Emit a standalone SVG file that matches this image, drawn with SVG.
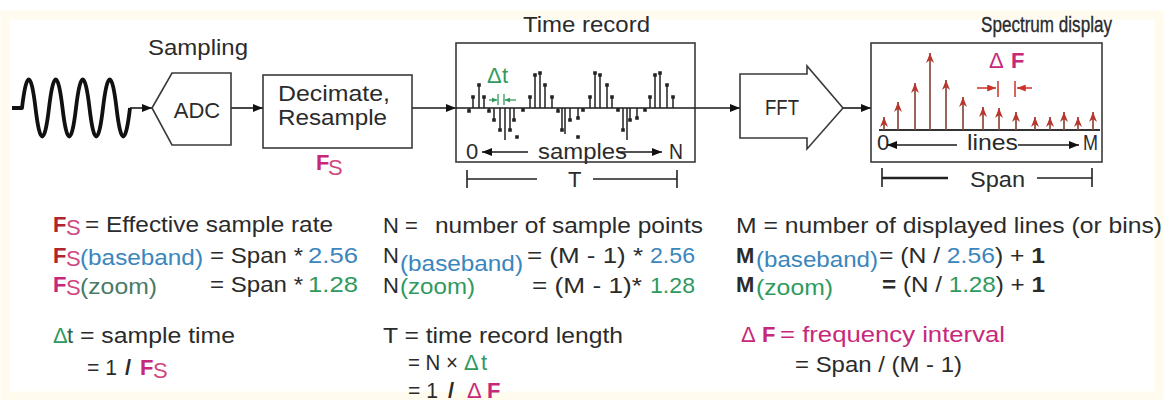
<svg xmlns="http://www.w3.org/2000/svg" width="1175" height="401" viewBox="0 0 1175 401">
<style>
text{font-family:"Liberation Sans",Arial,Helvetica,sans-serif;fill:#2b2b2b;font-size:22px}
.box{fill:#fff;stroke:#3a3a3a;stroke-width:1.6}
.conn{stroke:#1a1a1a;stroke-width:1.6;fill:none}
.blue{fill:#3a86bd}
.green{fill:#2f9a5e}
.mag{fill:#c8287a}
.red{fill:#b0242e}
.pink{fill:#d0487e}
.b{font-weight:bold}
.stem{stroke:#222;stroke-width:1.5;fill:none}
.dot{fill:#222}
.sline{stroke:#8a4a3c;stroke-width:1.7;fill:none}
.dim{stroke:#222;stroke-width:1.6;fill:none}
.gl{stroke:#2f9a5e;stroke-width:1.3;fill:none}
.rl{stroke:#d0302a;stroke-width:1.5;fill:none}
</style>
<defs>
<marker id="ah" viewBox="0 0 10 8" refX="10" refY="4" markerWidth="10" markerHeight="8" markerUnits="userSpaceOnUse" orient="auto"><path d="M0,0L10,4L0,8z" fill="#111"/></marker>
<marker id="ag" viewBox="0 0 6 6" refX="6" refY="3" markerWidth="5" markerHeight="5" markerUnits="userSpaceOnUse" orient="auto"><path d="M0,0L6,3L0,6z" fill="#2f9a5e"/></marker>
<marker id="ar" viewBox="0 0 10 8" refX="10" refY="4" markerWidth="9" markerHeight="7" markerUnits="userSpaceOnUse" orient="auto"><path d="M0,0L10,4L0,8z" fill="#d0302a"/></marker>
<marker id="sp" viewBox="0 0 10 8" refX="10" refY="4" markerWidth="10" markerHeight="9" markerUnits="userSpaceOnUse" orient="auto"><path d="M0,0L10,4L0,8L3,4z" fill="#b8362c"/></marker>
</defs>
<rect width="1175" height="401" fill="#fff"/>
<rect x="5" y="15" width="1154" height="381" fill="none" stroke="#fffcef" stroke-width="9"/>

<g id="connectors">
<line class="conn" x1="130" y1="108" x2="152" y2="108" marker-end="url(#ah)"/>
<line class="conn" x1="231" y1="108" x2="263" y2="108" marker-end="url(#ah)"/>
<line class="conn" x1="412" y1="108" x2="456" y2="108" marker-end="url(#ah)"/>
<line class="conn" x1="695" y1="108" x2="740" y2="108" marker-end="url(#ah)"/>
<line class="conn" x1="843" y1="108" x2="871" y2="108" marker-end="url(#ah)"/>
</g>

<g id="wave">
<path d="M12,108H22q6.75,-57 13.5,0t13.5,0t13.5,0t13.5,0t13.5,0t13.5,0t13.5,0t13.5,0" fill="none" stroke="#111" stroke-width="3.8" stroke-linejoin="round"/>
</g>

<g id="sampling-label"><text x="148" y="55" font-size="23" textLength="100" lengthAdjust="spacingAndGlyphs">Sampling</text></g>

<g id="adc">
<polygon class="box" points="152,108 172,73 231,73 231,145 172,145"/>
<text x="197" y="118" font-size="23" text-anchor="middle">ADC</text>
</g>

<g id="decimate">
<rect class="box" x="263" y="75" width="149" height="73"/>
<text x="278" y="101" font-size="20.5" textLength="112" lengthAdjust="spacingAndGlyphs">Decimate,</text>
<text x="278" y="125" font-size="20.5" textLength="109" lengthAdjust="spacingAndGlyphs">Resample</text>
<text x="316" y="170" font-size="17" class="b mag">F</text><text x="328" y="175" font-size="15" class="pink">S</text>
</g>

<g id="time-record">
<text x="523" y="32" font-size="23" textLength="127" lengthAdjust="spacingAndGlyphs">Time record</text>
<rect class="box" x="456" y="43" width="239" height="119"/>
<line class="conn" x1="456" y1="108" x2="695" y2="108"/>
<path class="stem" d="M469,108V111M473,108V97M479,108V85M484,108V97M489,108V111M494,108V120M500,108V130M505,108V140M510,108V130M514,108V120M523,108V110M530,108V97M535,108V75M540,108V73M545,108V85M552,108V97M558,108V111M562,108V130M565,108V134M570,108V120M578,108V118M583,108V110M590,108V97M595,108V73M600,108V75M607,108V85M612,108V97M618,108V110M623,108V130M627,108V140M630,108V120M637,108V118M645,108V110M650,108V97M655,108V75M660,108V73M667,108V85M673,108V97"/>
<path class="dot" d="M467.2,109.2h3.6v3.6h-3.6zM471.2,95.2h3.6v3.6h-3.6zM477.2,83.2h3.6v3.6h-3.6zM482.2,95.2h3.6v3.6h-3.6zM487.2,109.2h3.6v3.6h-3.6zM492.2,118.2h3.6v3.6h-3.6zM498.2,128.2h3.6v3.6h-3.6zM508.2,128.2h3.6v3.6h-3.6zM512.2,118.2h3.6v3.6h-3.6zM521.2,108.2h3.6v3.6h-3.6zM515.2,135.2h3.6v3.6h-3.6zM528.2,95.2h3.6v3.6h-3.6zM533.2,73.2h3.6v3.6h-3.6zM538.2,71.2h3.6v3.6h-3.6zM543.2,83.2h3.6v3.6h-3.6zM550.2,95.2h3.6v3.6h-3.6zM556.2,109.2h3.6v3.6h-3.6zM560.2,128.2h3.6v3.6h-3.6zM568.2,118.2h3.6v3.6h-3.6zM576.2,116.2h3.6v3.6h-3.6zM581.2,108.2h3.6v3.6h-3.6zM576.2,135.2h3.6v3.6h-3.6zM588.2,95.2h3.6v3.6h-3.6zM593.2,71.2h3.6v3.6h-3.6zM598.2,73.2h3.6v3.6h-3.6zM605.2,83.2h3.6v3.6h-3.6zM610.2,95.2h3.6v3.6h-3.6zM616.2,108.2h3.6v3.6h-3.6zM621.2,128.2h3.6v3.6h-3.6zM628.2,118.2h3.6v3.6h-3.6zM635.2,116.2h3.6v3.6h-3.6zM643.2,108.2h3.6v3.6h-3.6zM648.2,95.2h3.6v3.6h-3.6zM653.2,73.2h3.6v3.6h-3.6zM658.2,71.2h3.6v3.6h-3.6zM665.2,83.2h3.6v3.6h-3.6zM671.2,95.2h3.6v3.6h-3.6z"/>
<text x="487" y="83" font-size="13" class="green">Δ</text><text x="502" y="83" font-size="19" class="green">t</text>
<line class="gl" x1="489" y1="100" x2="497" y2="100" marker-end="url(#ag)"/>
<line class="gl" x1="516" y1="100" x2="505" y2="100" marker-end="url(#ag)"/>
<path class="gl" d="M498,94V105M504,94V105"/>
<text x="466" y="159">0</text>
<line class="conn" x1="528" y1="152" x2="482" y2="152" marker-end="url(#ah)"/>
<text x="538" y="159" textLength="89" lengthAdjust="spacingAndGlyphs">samples</text>
<line class="conn" x1="618" y1="152" x2="662" y2="152" marker-end="url(#ah)"/>
<text x="669" y="159" textLength="14" lengthAdjust="spacingAndGlyphs">N</text>
<path class="dim" d="M467,170V188M467,179H537M593,179H677M677,170V188"/>
<text x="568" y="187">T</text>
</g>

<g id="fft">
<polygon class="box" points="740,74 807,74 807,66 843,108 807,149 807,138 740,138"/>
<text x="765" y="115" font-size="21" textLength="34" lengthAdjust="spacingAndGlyphs">FFT</text>
</g>

<g id="spectrum">
<text x="981" y="32" font-size="23.5" textLength="131" lengthAdjust="spacingAndGlyphs" style="stroke:#2b2b2b;stroke-width:0.35">Spectrum display</text>
<rect class="box" x="871" y="43" width="231" height="119"/>
<line x1="879" y1="130" x2="1100" y2="130" stroke="#333" stroke-width="2"/>
<g class="sline" marker-end="url(#sp)">
<line x1="884" y1="130" x2="884" y2="117"/>
<line x1="898" y1="130" x2="898" y2="102"/>
<line x1="915" y1="130" x2="915" y2="83"/>
<line x1="930" y1="130" x2="930" y2="53"/>
<line x1="946" y1="130" x2="946" y2="80"/>
<line x1="963" y1="130" x2="963" y2="97"/>
<line x1="983" y1="130" x2="983" y2="107"/>
<line x1="999" y1="130" x2="999" y2="108"/>
<line x1="1016" y1="130" x2="1016" y2="112"/>
<line x1="1035" y1="130" x2="1035" y2="117"/>
<line x1="1050" y1="130" x2="1050" y2="117"/>
<line x1="1064" y1="130" x2="1064" y2="112"/>
<line x1="1078" y1="130" x2="1078" y2="117"/>
<line x1="1093" y1="130" x2="1093" y2="112"/>
</g>
<text x="989" y="68" font-size="17" class="mag">Δ</text><text x="1011" y="68" font-size="20" class="b mag">F</text>
<line class="rl" x1="977" y1="88" x2="996" y2="88" marker-end="url(#ar)"/>
<line class="rl" x1="1032" y1="88" x2="1017" y2="88" marker-end="url(#ar)"/>
<path class="rl" d="M998,81V97M1015,81V97"/>
<text x="877" y="150" font-size="21">0</text>
<line class="conn" x1="957" y1="145" x2="887" y2="145" marker-end="url(#ah)"/>
<text x="967" y="150" font-size="21" textLength="51" lengthAdjust="spacingAndGlyphs">lines</text>
<line class="conn" x1="1018" y1="145" x2="1079" y2="145" marker-end="url(#ah)"/>
<text x="1083" y="150" font-size="21" textLength="15" lengthAdjust="spacingAndGlyphs">M</text>
<path class="dim" d="M882,168V187M1092,168V187M1037,178H1092"/>
<path d="M882,178H948" stroke="#222" stroke-width="2.6"/>
<text x="970" y="187" textLength="55" lengthAdjust="spacingAndGlyphs">Span</text>
</g>

<g id="legend-fs">
<text x="53" y="232" font-size="20" class="b red">F</text><text x="66" y="235" font-size="15" class="pink">S</text>
<text x="85" y="232" textLength="248" lengthAdjust="spacingAndGlyphs">= Effective sample rate</text>
<text x="53" y="263" font-size="20" class="b red">F</text><text x="66" y="266" font-size="14" class="pink">S</text>
<text x="80" y="265" class="blue" textLength="123" lengthAdjust="spacingAndGlyphs">(baseband)</text>
<text x="210" y="263" textLength="93" lengthAdjust="spacingAndGlyphs">= Span *</text>
<text x="308" y="263" class="blue" textLength="50" lengthAdjust="spacingAndGlyphs">2.56</text>
<text x="53" y="292" font-size="20" class="b mag">F</text><text x="66" y="295" font-size="14" class="pink">S</text>
<text x="80" y="294" style="fill:#4a7a66" textLength="77" lengthAdjust="spacingAndGlyphs">(zoom)</text>
<text x="210" y="292" textLength="93" lengthAdjust="spacingAndGlyphs">= Span *</text>
<text x="308" y="292" class="green" textLength="50" lengthAdjust="spacingAndGlyphs">1.28</text>
<text x="53" y="343" font-size="14" class="green">Δ</text><text x="67" y="343" style="fill:#2f6048">t</text>
<text x="80" y="343" textLength="155" lengthAdjust="spacingAndGlyphs">= sample time</text>
<text x="87" y="375" textLength="30" lengthAdjust="spacingAndGlyphs">= 1</text>
<text x="125" y="375" class="b">/</text>
<text x="140" y="375" font-size="20" class="b mag">F</text><text x="153" y="378" font-size="16" class="pink">S</text>
</g>

<g id="legend-n">
<text x="383" y="233">N</text><text x="405" y="233">=</text>
<text x="435" y="233" textLength="268" lengthAdjust="spacingAndGlyphs">number of sample points</text>
<text x="383" y="263">N</text>
<text x="400" y="271" class="blue" textLength="123" lengthAdjust="spacingAndGlyphs">(baseband)</text>
<text x="527" y="263" textLength="116" lengthAdjust="spacingAndGlyphs">= (M - 1) *</text>
<text x="650" y="263" class="blue" textLength="45" lengthAdjust="spacingAndGlyphs">2.56</text>
<text x="383" y="293">N</text>
<text x="400" y="294" class="green" textLength="75" lengthAdjust="spacingAndGlyphs">(zoom)</text>
<text x="532" y="293" textLength="110" lengthAdjust="spacingAndGlyphs">= (M - 1)*</text>
<text x="650" y="293" class="green" textLength="45" lengthAdjust="spacingAndGlyphs">1.28</text>
<text x="383" y="343" textLength="240" lengthAdjust="spacingAndGlyphs">T = time record length</text>
<text x="408" y="370" textLength="50" lengthAdjust="spacingAndGlyphs">= N ×</text>
<text x="464" y="370" font-size="15" class="green">Δ</text><text x="481" y="370" class="green">t</text>
<text x="408" y="398" textLength="30" lengthAdjust="spacingAndGlyphs">= 1</text>
<text x="448" y="398" class="b">/</text>
<text x="467" y="398" font-size="17" class="mag">Δ</text><text x="487" y="398" font-size="21" class="b mag">F</text>
</g>

<g id="legend-m">
<text x="736" y="233" textLength="426" lengthAdjust="spacingAndGlyphs">M = number of displayed lines (or bins)</text>
<text x="736" y="263" class="b">M</text>
<text x="756" y="267" class="blue" textLength="122" lengthAdjust="spacingAndGlyphs">(baseband)</text>
<text x="879" y="263" textLength="166" lengthAdjust="spacingAndGlyphs">= (N / <tspan class="blue">2.56</tspan>) + <tspan class="b">1</tspan></text>
<text x="736" y="292" class="b">M</text>
<text x="756" y="295" class="green" textLength="77" lengthAdjust="spacingAndGlyphs">(zoom)</text>
<text x="882" y="292" textLength="163" lengthAdjust="spacingAndGlyphs"><tspan class="b">=</tspan> (N / <tspan class="green">1.28</tspan>) + <tspan class="b">1</tspan></text>
<text x="741" y="342" font-size="17" class="mag">Δ</text><text x="762" y="342" font-size="21" class="b mag">F</text>
<text x="780" y="342" class="mag" textLength="225" lengthAdjust="spacingAndGlyphs">= frequency interval</text>
<text x="795" y="372" textLength="167" lengthAdjust="spacingAndGlyphs">= Span / (M - 1)</text>
</g>
</svg>
